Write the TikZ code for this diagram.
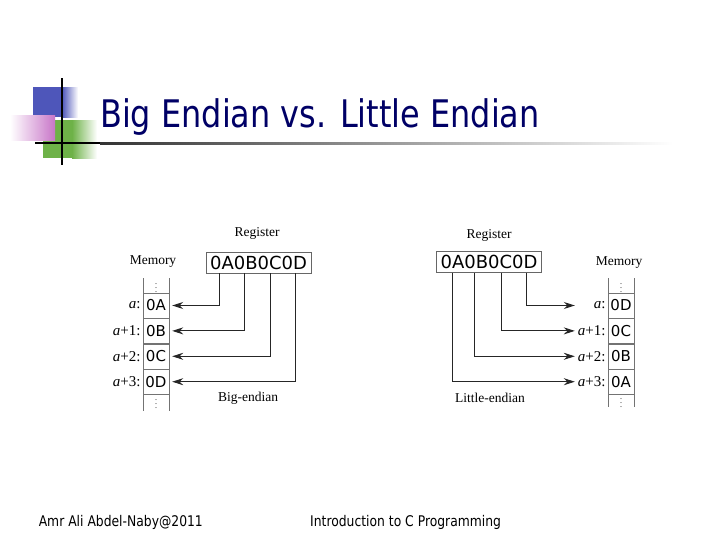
\documentclass[tikz,border=0pt]{standalone}
\usepackage{fontspec}
\setmainfont{Liberation Serif}
\newfontfamily\tahoma[FakeStretch=0.84]{DejaVu Sans}
\newfontfamily\dvs{DejaVu Sans}
\usepackage{tikz}
\usetikzlibrary{positioning,arrows.meta}
\definecolor{navy}{RGB}{0,0,102}
\definecolor{sqblue}{RGB}{78,86,186}
\definecolor{sqpink}{RGB}{200,118,200}
\definecolor{sqgreen}{RGB}{110,178,72}
\tikzset{
 cell/.style={draw=black!55, minimum width=26pt, minimum height=25pt, inner sep=0pt, font=\dvs\fontsize{15}{15}\selectfont},
 lbl/.style={font=\fontsize{15}{15}\selectfont, inner sep=1pt},
 captxt/.style={font=\fontsize{13.5}{14}\selectfont, inner sep=0pt},
 regbox/.style={draw=black!60, minimum width=105pt, minimum height=21pt, inner sep=0pt, font=\dvs\fontsize{18}{18}\selectfont},
 ptr/.style={draw=black!85, line width=1pt, -{Stealth[length=11pt,width=7pt]}},
 col/.style={draw=black!55},
 dots/.style={font=\fontsize{8}{8}\selectfont, inner sep=0pt}
}
\begin{document}
\begin{tikzpicture}[x=1pt,y=-1pt]
\useasboundingbox[fill=white] (0,0) rectangle (728,546);
% corner squares and rules
\fill[sqblue] (33,87) rectangle (62,117); \shade[left color=sqblue, right color=white] (62,87) rectangle (78,117);
\fill[sqgreen] (43,120) rectangle (72,158); \shade[left color=sqgreen, right color=white] (72,120) rectangle (97,158);
\shade[left color=white, right color=sqpink] (10,115) rectangle (55,140);
\draw[line width=1.5pt] (62,78) -- (62,165);
\fill[black] (35,142) rectangle (100,144); \shade[left color=black!80, right color=white] (100,142) rectangle (673,144);
\node[anchor=base west, inner sep=0pt, text=navy, font=\tahoma\fontsize{38}{40}\selectfont] (title) at (100,127) {Big Endian vs. Little Endian};

% big-endian
\node[regbox] (regL) at (258.5,262.5) {0A0B0C0D};
\node[captxt] (regLcap) at (257,233) {Register};
\node[captxt] (memL) at (153,262) {Memory};
\node[cell] (lA) at (156,305.5) {0A}; \node[cell, below=0pt of lA] (lB) {0B}; \node[cell, below=0pt of lB] (lC) {0C}; \node[cell, below=0pt of lC] (lD) {0D};
\draw[col] (lA.north west) -- ++(0,-15) (lA.north east) -- ++(0,-15) (lD.south west) -- ++(0,17) (lD.south east) -- ++(0,17);
\node[dots] (lTop) at (156,285) {$\vdots$}; \node[dots] (lBot) at (156,401.5) {$\vdots$};
\node[lbl, left=1pt of lA] (laA) {\textit{a}:}; \node[lbl, left=1pt of lB] (laB) {\textit{a}+1:}; \node[lbl, left=1pt of lC] (laC) {\textit{a}+2:}; \node[lbl, left=1pt of lD] (laD) {\textit{a}+3:};
\draw[ptr] ([xshift=-39pt]regL.south) |- ([xshift=3pt]lA.east);
\draw[ptr] ([xshift=-14pt]regL.south) |- ([xshift=3pt]lB.east);
\draw[ptr] ([xshift=12pt]regL.south) |- ([xshift=3pt]lC.east);
\draw[ptr] ([xshift=37pt]regL.south) |- ([xshift=3pt]lD.east);
\node[captxt] (bigcap) at (248,398) {Big-endian};

% little-endian
\node[regbox] (regR) at (489,262) {0A0B0C0D};
\node[captxt] (regRcap) at (489,235) {Register};
\node[captxt] (memR) at (619,263) {Memory};
\node[cell] (rA) at (621,305.5) {0D}; \node[cell, below=0pt of rA] (rB) {0C}; \node[cell, below=0pt of rB] (rC) {0B}; \node[cell, below=0pt of rC] (rD) {0A};
\draw[col] (rA.north west) -- ++(0,-15) (rA.north east) -- ++(0,-15) (rD.south west) -- ++(0,13) (rD.south east) -- ++(0,13);
\node[dots] (rTop) at (621,285) {$\vdots$}; \node[dots] (rBot) at (621,400) {$\vdots$};
\node[lbl, left=1pt of rA] (raA) {\textit{a}:}; \node[lbl, left=1pt of rB] (raB) {\textit{a}+1:}; \node[lbl, left=1pt of rC] (raC) {\textit{a}+2:}; \node[lbl, left=1pt of rD] (raD) {\textit{a}+3:};
\draw[ptr] ([xshift=37pt]regR.south) |- ([xshift=-33pt]rA.west);
\draw[ptr] ([xshift=12pt]regR.south) |- ([xshift=-33pt]rB.west);
\draw[ptr] ([xshift=-15pt]regR.south) |- ([xshift=-33pt]rC.west);
\draw[ptr] ([xshift=-37pt]regR.south) |- ([xshift=-33pt]rD.west);
\node[captxt] (litcap) at (490,398) {Little-endian};

% footer
\node[anchor=base west, inner sep=0pt, font=\tahoma\fontsize{14.7}{15}\selectfont] (author) at (38.6,526) {Amr Ali Abdel-Naby@2011};
\node[anchor=base west, inner sep=0pt, font=\tahoma\fontsize{14.7}{15}\selectfont] (course) at (310,526) {Introduction to C Programming};
\end{tikzpicture}
\end{document}
